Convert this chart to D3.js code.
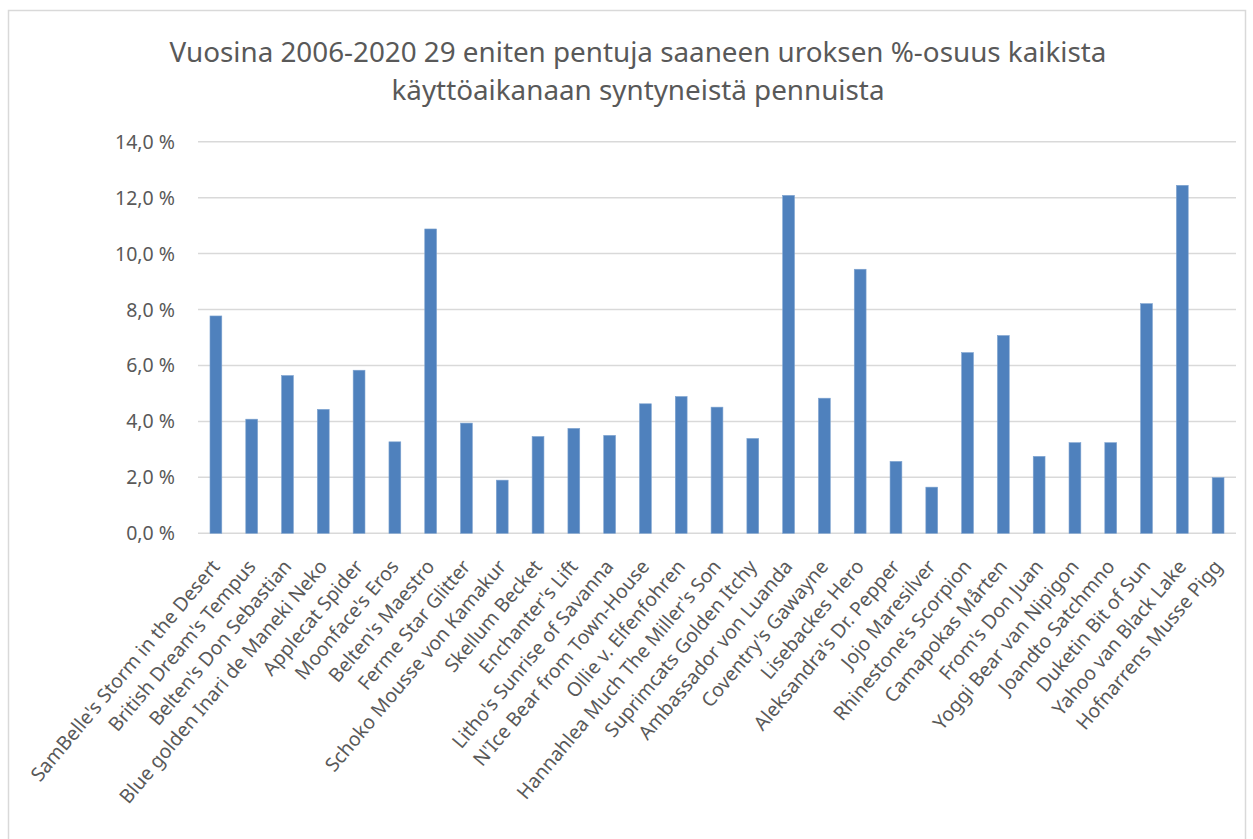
<!DOCTYPE html>
<html>
<head>
<meta charset="utf-8">
<script src="https://cdn.jsdelivr.net/npm/d3@7"></script>
<style>
  body { margin: 0; background: #fff; }
  text { font-family: "Noto Sans", "Open Sans", sans-serif; fill: #595959; }
</style>
</head>
<body>
<div id="wrapper"></div>
<script>

// data

const titleLines = [
  "Vuosina 2006-2020 29 eniten pentuja saaneen uroksen %-osuus kaikista",
  "käyttöaikanaan syntyneistä pennuista"
]

const categories = [
  "SamBelle's Storm in the Desert",
  "British Dream's Tempus",
  "Belten's Don Sebastian",
  "Blue golden Inari de Maneki Neko",
  "Applecat Spider",
  "Moonface's Eros",
  "Belten's Maestro",
  "Ferme Star Glitter",
  "Schoko Mousse von Kamakur",
  "Skellum Becket",
  "Enchanter's Lift",
  "Litho's Sunrise of Savanna",
  "N'Ice Bear from Town-House",
  "Ollie v. Elfenfohren",
  "Hannahlea Much The Miller's Son",
  "Suprimcats Golden Itchy",
  "Ambassador von Luanda",
  "Coventry's Gawayne",
  "Lisebackes Hero",
  "Aleksandra's Dr. Pepper",
  "Jojo Maresilver",
  "Rhinestone's Scorpion",
  "Camapokas Mårten",
  "From's Don Juan",
  "Yoggi Bear van Nipigon",
  "Joandto Satchmno",
  "Duketin Bit of Sun",
  "Yahoo van Black Lake",
  "Hofnarrens Musse Pigg"
]

// share in percent
const values = [
  7.77, 4.08, 5.64, 4.43, 5.83, 3.27, 10.88, 3.94, 1.90, 3.46,
  3.75, 3.50, 4.63, 4.89, 4.51, 3.39, 12.08, 4.83, 9.44, 2.57,
  1.65, 6.46, 7.07, 2.75, 3.24, 3.24, 8.21, 12.44, 1.99
]

const yTicks = [0, 2, 4, 6, 8, 10, 12, 14]

const dataset = categories.map((name, i) => ({ name, value: values[i] }))

// dimensions
const width = 1253
const height = 839
let dimensions = {
  left: 198,
  right: 1236,
  top: 141.7,
  bottom: 533.3,
}

const wrapper = d3.select("#wrapper")
  .append("svg")
    .attr("width", width)
    .attr("height", height)

// chart border
wrapper.append("rect")
  .attr("x", 8.5)
  .attr("y", 10.5)
  .attr("width", 1237)
  .attr("height", 840)
  .attr("fill", "none")
  .attr("stroke", "#d9d9d9")
  .attr("stroke-width", 1.5)

// scales
const xScale = d3.scaleBand()
  .domain(categories)
  .range([dimensions.left, dimensions.right])
  .paddingInner(0.67)
  .paddingOuter(0.335)

const yScale = d3.scaleLinear()
  .domain([0, 14])
  .range([dimensions.bottom, dimensions.top])

// gridlines
wrapper.append("g")
  .selectAll("line")
  .data(yTicks)
  .enter().append("line")
    .attr("x1", dimensions.left)
    .attr("x2", dimensions.right)
    .attr("y1", d => yScale(d))
    .attr("y2", d => yScale(d))
    .attr("stroke", "#d9d9d9")
    .attr("stroke-width", 1.5)

// y tick labels
const formatPct = d => d.toFixed(1).replace(".", ",") + "\u00a0%"
wrapper.append("g")
  .selectAll("text")
  .data(yTicks)
  .enter().append("text")
    .attr("x", 175)
    .attr("y", d => yScale(d))
    .attr("dy", "0.36em")
    .attr("text-anchor", "end")
    .style("font-size", "19.5px")
    .text(formatPct)

// bars
wrapper.append("g")
  .selectAll("rect")
  .data(dataset)
  .enter().append("rect")
    .attr("x", d => xScale(d.name))
    .attr("width", xScale.bandwidth())
    .attr("y", d => yScale(d.value))
    .attr("height", d => yScale(0) - yScale(d.value))
    .attr("fill", "#4f81bd")
    .attr("stroke", "#7ea3d0")
    .attr("stroke-width", 0.6)

// category labels, rotated
wrapper.append("g")
  .selectAll("text")
  .data(categories)
  .enter().append("text")
    .attr("transform", d => `translate(${xScale(d) + xScale.bandwidth() / 2 + 5}, 567) rotate(-50)`)
    .attr("text-anchor", "end")
    .style("font-size", "19.5px")
    .text(d => d)

// title
wrapper.append("g")
  .selectAll("text")
  .data(titleLines)
  .enter().append("text")
    .attr("x", 638)
    .attr("y", (d, i) => 62 + i * 38)
    .attr("text-anchor", "middle")
    .style("font-size", "27.8px")
    .text(d => d)

</script>
</body>
</html>
